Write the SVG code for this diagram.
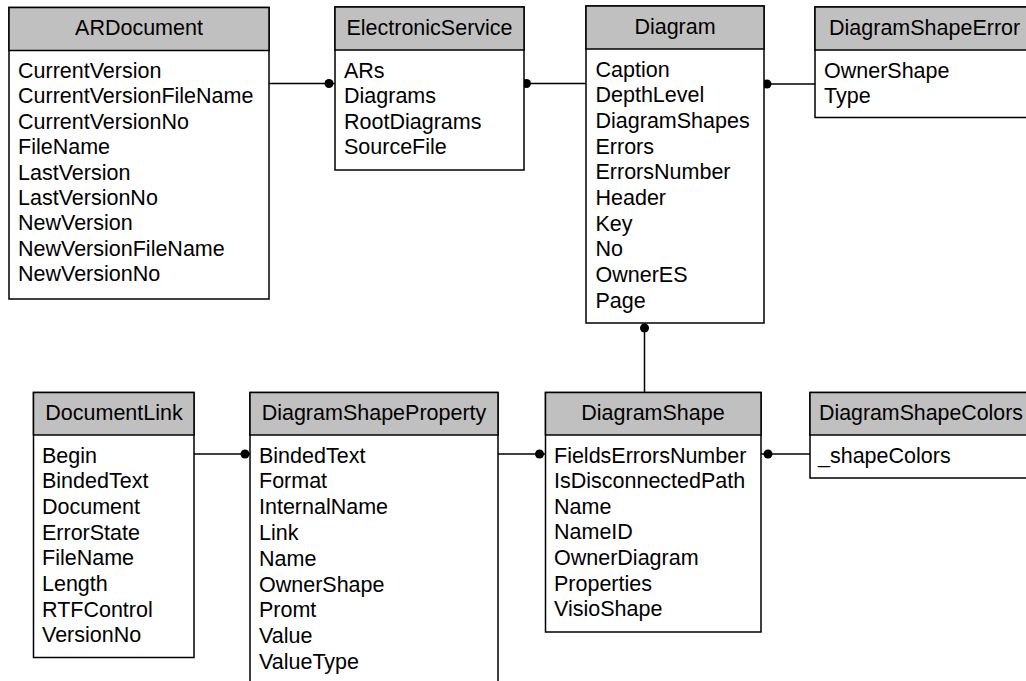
<svg xmlns="http://www.w3.org/2000/svg" width="1026" height="681" viewBox="0 0 1026 681">
<style>
.box{fill:#fff;stroke:#000;stroke-width:1.5}
.hdr{fill:#c0c0c0;stroke:#000;stroke-width:1.5}
.t{font-family:"Liberation Sans",Arial,sans-serif;font-size:21.5px;fill:#000}
.h{text-anchor:middle}
.ln{stroke:#000;stroke-width:1.5;fill:none}
.dot{fill:#000}
</style>
<rect width="1026" height="681" fill="#fff"/>
<g id="connectors">
<line class="ln" x1="269" y1="83.5" x2="335" y2="83.5"/><circle class="dot" cx="329" cy="83.5" r="4.5"/>
<line class="ln" x1="524" y1="83.5" x2="586" y2="83.5"/><circle class="dot" cx="526.5" cy="83.5" r="4.5"/>
<line class="ln" x1="764" y1="84" x2="815" y2="84"/><circle class="dot" cx="767" cy="84" r="4.5"/>
<line class="ln" x1="644.5" y1="323" x2="644.5" y2="392"/><circle class="dot" cx="644.5" cy="328" r="4.5"/>
<line class="ln" x1="194" y1="454" x2="250" y2="454"/><circle class="dot" cx="245" cy="454" r="4.5"/>
<line class="ln" x1="498" y1="454" x2="545" y2="454"/><circle class="dot" cx="539.5" cy="454" r="4.5"/>
<line class="ln" x1="761" y1="454" x2="810" y2="454"/><circle class="dot" cx="768" cy="454" r="4.5"/>
</g>
<g id="ARDocument">
<rect class="box" x="9" y="7.5" width="260" height="291.5"/>
<rect class="hdr" x="9" y="7.5" width="260" height="43"/>
<text class="t h" x="139" y="35">ARDocument</text>
<text class="t" x="18" y="78"><tspan x="18">CurrentVersion</tspan><tspan x="18" dy="25.4">CurrentVersionFileName</tspan><tspan x="18" dy="25.4">CurrentVersionNo</tspan><tspan x="18" dy="25.4">FileName</tspan><tspan x="18" dy="25.4">LastVersion</tspan><tspan x="18" dy="25.4">LastVersionNo</tspan><tspan x="18" dy="25.4">NewVersion</tspan><tspan x="18" dy="25.4">NewVersionFileName</tspan><tspan x="18" dy="25.4">NewVersionNo</tspan></text>
</g>
<g id="ElectronicService">
<rect class="box" x="335" y="7" width="189" height="163"/>
<rect class="hdr" x="335" y="7" width="189" height="43"/>
<text class="t h" x="429.5" y="34.5">ElectronicService</text>
<text class="t" x="344" y="77.5"><tspan x="344">ARs</tspan><tspan x="344" dy="25.5">Diagrams</tspan><tspan x="344" dy="25.5">RootDiagrams</tspan><tspan x="344" dy="25.5">SourceFile</tspan></text>
</g>
<g id="Diagram">
<rect class="box" x="586" y="6" width="178" height="317"/>
<rect class="hdr" x="586" y="6" width="178" height="43"/>
<text class="t h" x="675" y="33.5">Diagram</text>
<text class="t" x="595.5" y="76.5"><tspan x="595.5">Caption</tspan><tspan x="595.5" dy="25.7">DepthLevel</tspan><tspan x="595.5" dy="25.7">DiagramShapes</tspan><tspan x="595.5" dy="25.7">Errors</tspan><tspan x="595.5" dy="25.7">ErrorsNumber</tspan><tspan x="595.5" dy="25.7">Header</tspan><tspan x="595.5" dy="25.7">Key</tspan><tspan x="595.5" dy="25.7">No</tspan><tspan x="595.5" dy="25.7">OwnerES</tspan><tspan x="595.5" dy="25.7">Page</tspan></text>
</g>
<g id="DiagramShapeError">
<rect class="box" x="815" y="7" width="220" height="110.5"/>
<rect class="hdr" x="815" y="7" width="220" height="43"/>
<text class="t" x="829" y="34.5">DiagramShapeError</text>
<text class="t" x="824" y="77.5"><tspan x="824">OwnerShape</tspan><tspan x="824" dy="25.5">Type</tspan></text>
</g>
<g id="DocumentLink">
<rect class="box" x="33.5" y="392.5" width="160.5" height="265"/>
<rect class="hdr" x="33.5" y="392.5" width="160.5" height="42.5"/>
<text class="t h" x="114" y="420">DocumentLink</text>
<text class="t" x="42" y="462.5"><tspan x="42">Begin</tspan><tspan x="42" dy="25.7">BindedText</tspan><tspan x="42" dy="25.7">Document</tspan><tspan x="42" dy="25.7">ErrorState</tspan><tspan x="42" dy="25.7">FileName</tspan><tspan x="42" dy="25.7">Length</tspan><tspan x="42" dy="25.7">RTFControl</tspan><tspan x="42" dy="25.7">VersionNo</tspan></text>
</g>
<g id="DiagramShapeProperty">
<rect class="box" x="250" y="392.5" width="248" height="300"/>
<rect class="hdr" x="250" y="392.5" width="248" height="42.5"/>
<text class="t h" x="374" y="420">DiagramShapeProperty</text>
<text class="t" x="259" y="462.5"><tspan x="259">BindedText</tspan><tspan x="259" dy="25.8">Format</tspan><tspan x="259" dy="25.8">InternalName</tspan><tspan x="259" dy="25.8">Link</tspan><tspan x="259" dy="25.8">Name</tspan><tspan x="259" dy="25.8">OwnerShape</tspan><tspan x="259" dy="25.8">Promt</tspan><tspan x="259" dy="25.8">Value</tspan><tspan x="259" dy="25.8">ValueType</tspan></text>
</g>
<g id="DiagramShape">
<rect class="box" x="545.5" y="392.5" width="215.5" height="239.5"/>
<rect class="hdr" x="545.5" y="392.5" width="215.5" height="42.5"/>
<text class="t h" x="653" y="420">DiagramShape</text>
<text class="t" x="554" y="462.5"><tspan x="554">FieldsErrorsNumber</tspan><tspan x="554" dy="25.6">IsDisconnectedPath</tspan><tspan x="554" dy="25.6">Name</tspan><tspan x="554" dy="25.6">NameID</tspan><tspan x="554" dy="25.6">OwnerDiagram</tspan><tspan x="554" dy="25.6">Properties</tspan><tspan x="554" dy="25.6">VisioShape</tspan></text>
</g>
<g id="DiagramShapeColors">
<rect class="box" x="810" y="392.5" width="230" height="85.5"/>
<rect class="hdr" x="810" y="392.5" width="230" height="42.5"/>
<text class="t" x="819" y="420" textLength="204" lengthAdjust="spacingAndGlyphs">DiagramShapeColors</text>
<text class="t" x="818" y="462.5">_shapeColors</text>
</g>
</svg>
